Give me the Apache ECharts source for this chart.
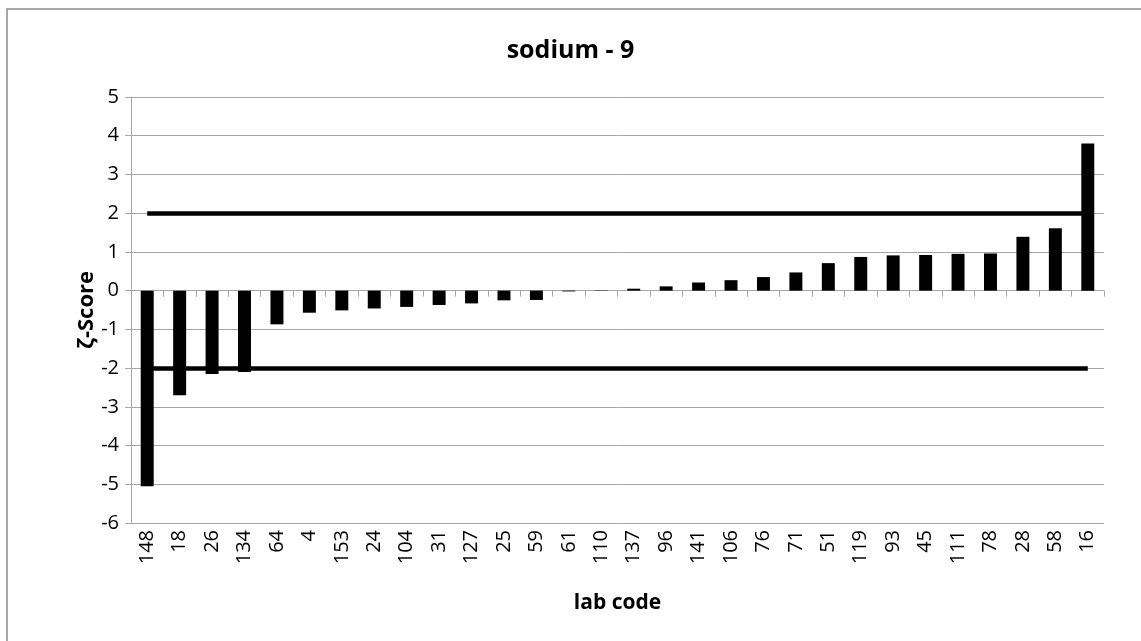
<!DOCTYPE html>
<html>
<head>
<meta charset="utf-8">
<script src="https://cdn.jsdelivr.net/npm/echarts@6/dist/echarts.min.js"></script>
<style>
  html, body { margin: 0; padding: 0; background: #fff; }
  #chart { width: 1141px; height: 641px; }
</style>
</head>
<body>
<div id="chart"></div>
<script>
// lab codes, sorted by score
const labCodes = ['148', '18', '26', '134', '64', '4', '153', '24', '104', '31',
  '127', '25', '59', '61', '110', '137', '96', '141', '106', '76',
  '71', '51', '119', '93', '45', '111', '78', '28', '58', '16']

// zeta scores
const zetaScores = [-5.05, -2.7, -2.15, -2.1, -0.87, -0.57, -0.51, -0.46, -0.42, -0.37,
  -0.33, -0.25, -0.24, -0.02, -0.01, 0.05, 0.11, 0.21, 0.27, 0.35,
  0.47, 0.71, 0.87, 0.91, 0.92, 0.95, 0.96, 1.39, 1.61, 3.8]

// acceptance limits
const upperLimit = 2
const lowerLimit = -2

const yMin = -6
const yMax = 5

const gray = '#a6a6a6'
const font = '"Open Sans", "Noto Sans", sans-serif'

const chart = echarts.init(document.getElementById('chart'))

// horizontal limit line from first to last lab
const limitLine = (v) => [
  { coord: [labCodes[0], v] },
  { coord: [labCodes[labCodes.length - 1], v] }
]

chart.setOption({
  animation: false,
  textStyle: { fontFamily: font },
  title: {
    text: 'sodium - 9',
    left: 'center',
    top: 33,
    textStyle: { fontFamily: font, fontSize: 25, fontWeight: 'bold', color: '#000' }
  },
  graphic: [{
    type: 'rect',
    shape: { x: 7, y: 9, width: 1200, height: 700 },
    style: { fill: 'none', stroke: '#8c8c8c', lineWidth: 1.5 },
    silent: true
  }],
  grid: { left: 131, right: 37, top: 97, bottom: 118, containLabel: false },
  xAxis: [
    {
      // axis line through zero, ticks only
      type: 'category',
      data: labCodes,
      axisLine: { onZero: true, lineStyle: { color: gray, width: 1 } },
      axisTick: { show: true, length: 6, lineStyle: { color: gray } },
      axisLabel: { show: false },
      splitLine: { show: false }
    },
    {
      // labels sit at the bottom of the plot
      type: 'category',
      data: labCodes,
      position: 'bottom',
      axisLine: { show: false, onZero: false },
      axisTick: { show: false },
      axisLabel: {
        rotate: 90,
        margin: 7,
        fontSize: 20,
        color: '#000',
        fontFamily: font,
        interval: 0
      },
      name: 'lab code',
      nameLocation: 'middle',
      nameGap: 70,
      nameTextStyle: { fontFamily: font, fontSize: 21, fontWeight: 'bold', color: '#000' }
    }
  ],
  yAxis: {
    type: 'value',
    min: yMin,
    max: yMax,
    interval: 1,
    axisLine: { show: true, lineStyle: { color: gray } },
    axisTick: { show: true, length: 6, lineStyle: { color: gray } },
    axisLabel: { fontSize: 20, color: '#000', margin: 12, fontFamily: font },
    splitLine: { lineStyle: { color: gray, width: 1 } },
    name: 'ζ-Score',
    nameLocation: 'middle',
    nameGap: 33,
    nameMoveOverlap: false,
    nameTextStyle: { fontFamily: font, fontSize: 22, fontWeight: 'bold', color: '#000' }
  },
  series: [
    {
      type: 'bar',
      xAxisIndex: 0,
      data: zetaScores,
      barWidth: '40%',
      itemStyle: { color: '#000' },
      markLine: {
        silent: true,
        symbol: 'none',
        label: { show: false },
        lineStyle: { color: '#000', width: 4.5, type: 'solid' },
        data: [limitLine(upperLimit), limitLine(lowerLimit)]
      }
    }
  ]
})
</script>
</body>
</html>
